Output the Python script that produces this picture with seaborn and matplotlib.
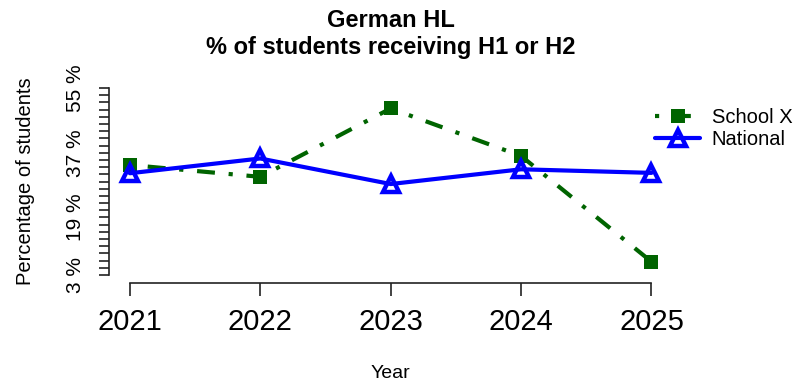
import numpy as np
import matplotlib
matplotlib.use("Agg")
import matplotlib.pyplot as plt
import seaborn as sns

# Data
years = [2021, 2022, 2023, 2024, 2025]
school_x = [33.6, 30.3, 49.3, 36.1, 6.7]
national = [31.3, 35.4, 28.3, 32.4, 31.4]

y_ticks = list(range(3, 56, 2))
y_labelled = [3, 19, 37, 55]

sns.set_style("white")
plt.rcParams["font.family"] = ["Liberation Sans", "DejaVu Sans"]
plt.rcParams["text.color"] = "black"
plt.rcParams["axes.labelcolor"] = "black"
plt.rcParams["xtick.color"] = "black"
plt.rcParams["ytick.color"] = "black"

fig = plt.figure(figsize=(7.99, 3.86), dpi=100)
ax = fig.add_axes([0.1364, 0.268, 0.8415 - 0.1364, 0.5235])

sns.lineplot(x=years, y=school_x, ax=ax, color="#006400", marker="s",
             markersize=9.5, markeredgewidth=0, linewidth=3,
             dashes=False, label="School X")
ax.lines[-1].set_dashes((1, 3.3, 4.3, 3.3))
sns.lineplot(x=years, y=national, ax=ax, color="#0000FF", marker="^",
             markersize=11, markerfacecolor="none", markeredgecolor="#0000FF",
             markeredgewidth=3.2, linewidth=3, label="National")

ax.set_xlim(2021 - 0.16, 2025 + 0.16)
ax.set_ylim(3 - 2.08, 55 + 2.08)

# R-style detached axes
for side in ["top", "right"]:
    ax.spines[side].set_visible(False)
ax.spines["left"].set_bounds(3, 55)
ax.spines["bottom"].set_bounds(2021, 2025)
for side in ["left", "bottom"]:
    ax.spines[side].set_color("#222222")
    ax.spines[side].set_linewidth(1.2)

ax.set_xticks(years)
ax.set_xticklabels([str(y) for y in years], fontsize=21)
ax.set_yticks(y_ticks)
ax.set_yticklabels([f"{t} %" if t in y_labelled else "" for t in y_ticks],
                   rotation=90, va="center", fontsize=15)
ax.tick_params(axis="x", length=9, width=1.2, color="#222222", pad=9, bottom=True)
ax.tick_params(axis="y", length=7, width=1.2, color="#222222", pad=10, left=True)

ax.set_xlabel("Year", fontsize=14, va="center")
ax.xaxis.set_label_coords(0.5, -0.448)
ax.set_ylabel("Percentage of students", fontsize=14.5, va="center")
ax.yaxis.set_label_coords(-0.149, 0.5)
ax.set_title("German HL\n% of students receiving H1 or H2", fontsize=17,
             fontweight="bold", pad=19, linespacing=1.25)

ax.legend(loc="center left", bbox_to_anchor=(0.97, 0.76), frameon=False,
          fontsize=14.5, handlelength=2.2, labelspacing=0.15, handletextpad=0.6,
          borderpad=0, borderaxespad=0)

fig.savefig("out.png", dpi=100)
